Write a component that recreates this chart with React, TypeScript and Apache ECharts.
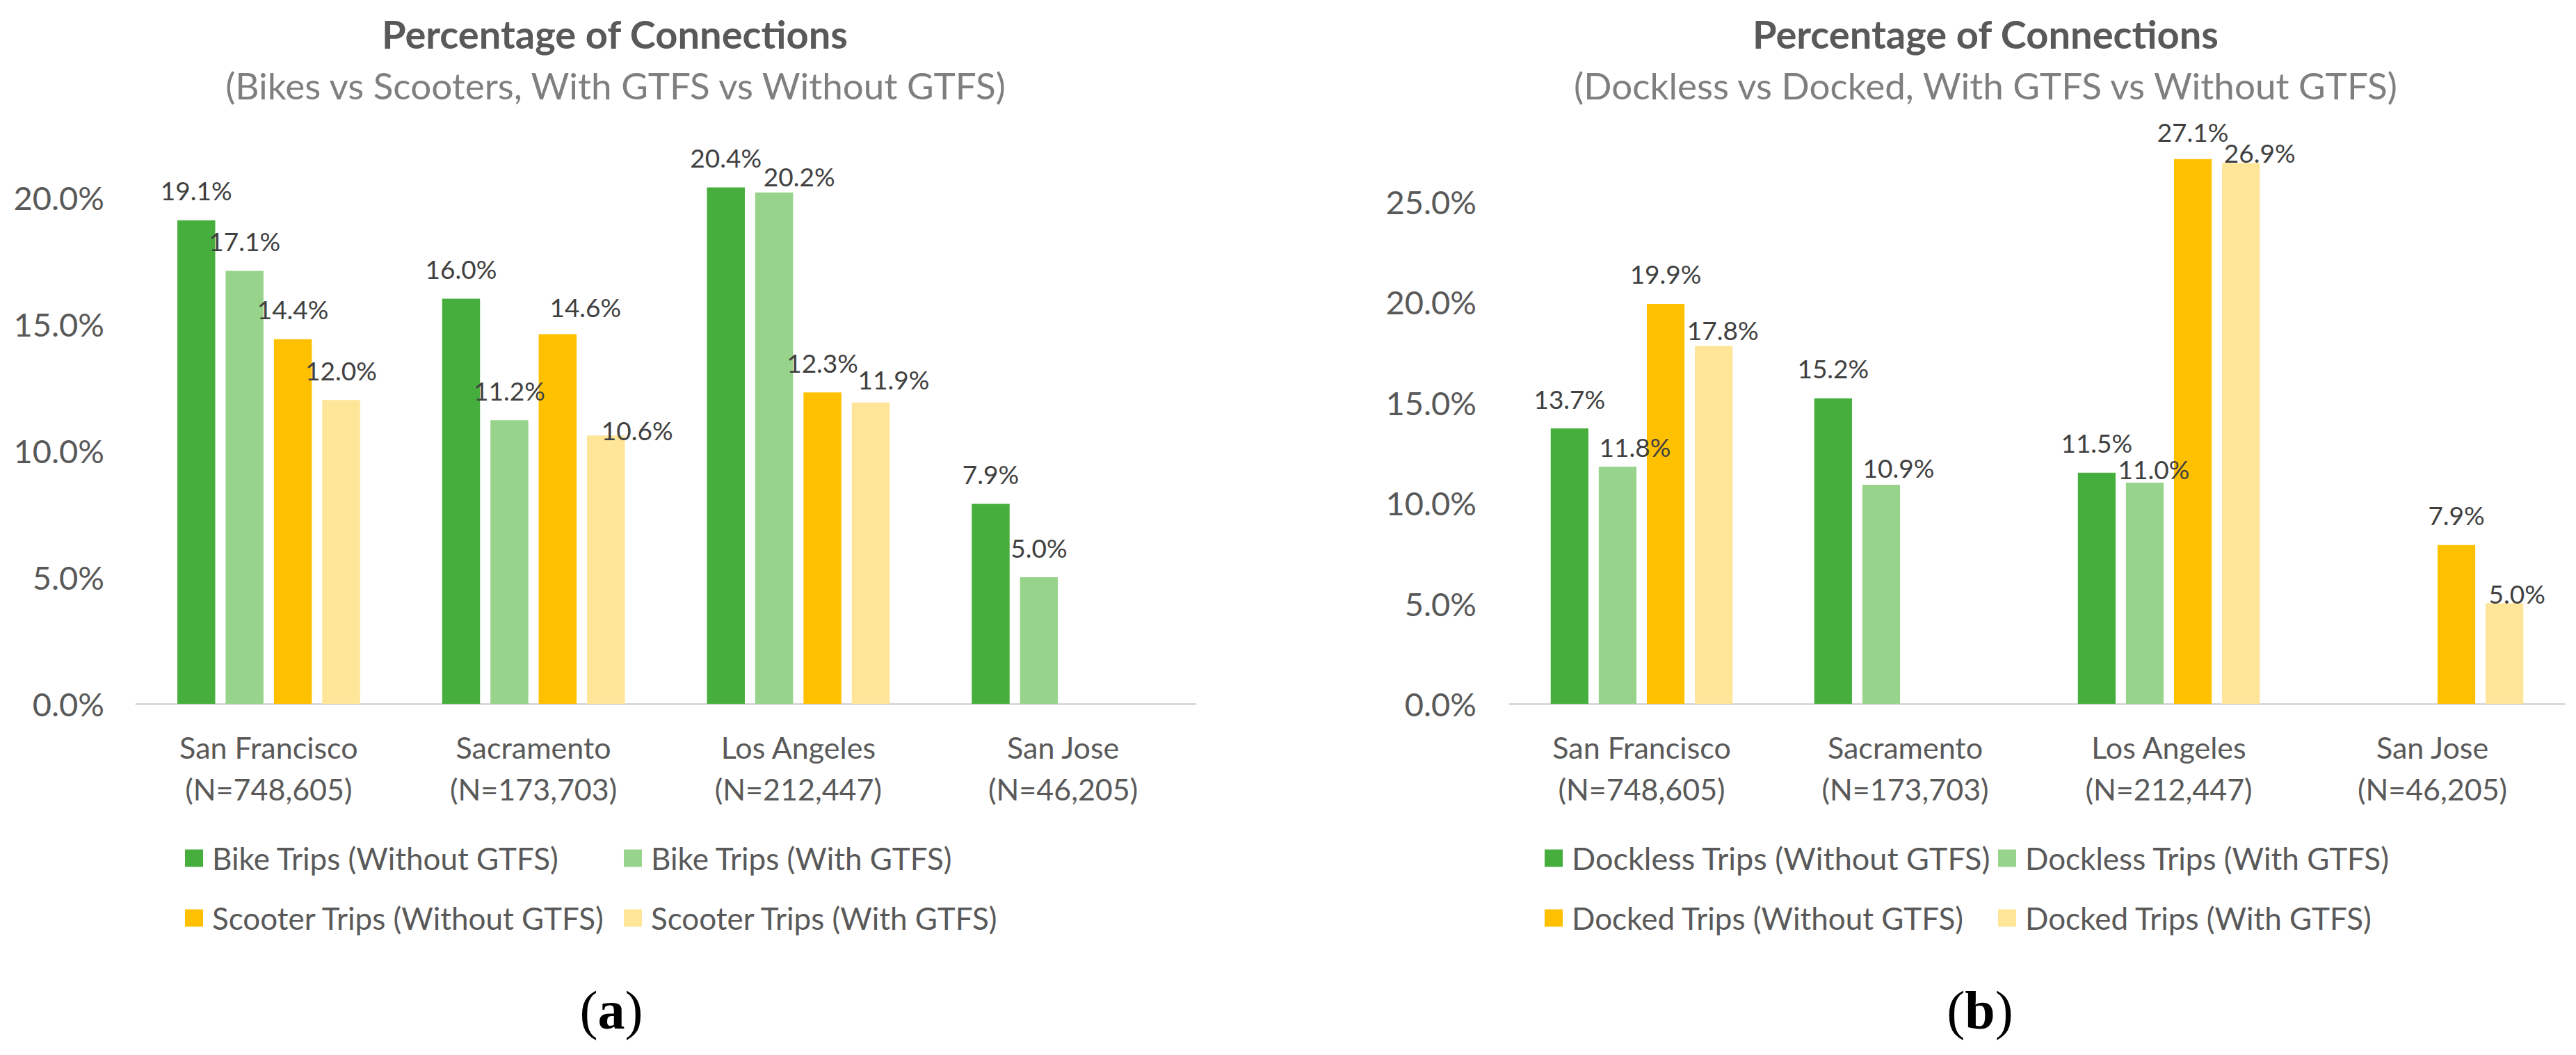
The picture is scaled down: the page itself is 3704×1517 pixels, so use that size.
import React, { useEffect, useRef } from "react";
import * as echarts from "echarts";

// ---------- data ----------
const CITY_NAMES = ["San Francisco", "Sacramento", "Los Angeles", "San Jose"];
const CITY_N = ["(N=748,605)", "(N=173,703)", "(N=212,447)", "(N=46,205)"];

const A_SERIES_NAMES = [
  "Bike Trips (Without GTFS)",
  "Bike Trips (With GTFS)",
  "Scooter Trips (Without GTFS)",
  "Scooter Trips (With GTFS)",
];
const A_BIKE_WITHOUT = [19.1, 16.0, 20.4, 7.9];
const A_BIKE_WITH = [17.1, 11.2, 20.2, 5.0];
const A_SCOOTER_WITHOUT = [14.4, 14.6, 12.3, null];
const A_SCOOTER_WITH = [12.0, 10.6, 11.9, null];

const B_SERIES_NAMES = [
  "Dockless Trips (Without GTFS)",
  "Dockless Trips (With GTFS)",
  "Docked Trips (Without GTFS)",
  "Docked Trips (With GTFS)",
];
const B_DOCKLESS_WITHOUT = [13.7, 15.2, 11.5, null];
const B_DOCKLESS_WITH = [11.8, 10.9, 11.0, null];
const B_DOCKED_WITHOUT = [19.9, null, 27.1, 7.9];
const B_DOCKED_WITH = [17.8, null, 26.9, 5.0];

const TITLE = "Percentage of Connections";
const A_SUBTITLE = "(Bikes vs Scooters, With GTFS vs Without GTFS)";
const B_SUBTITLE = "(Dockless vs Docked, With GTFS vs Without GTFS)";

const A_AXIS_MAX = 25;
const B_AXIS_MAX = 30;
const AXIS_STEP = 5;

// ---------- styles ----------
const COLORS = ["#45AE3C", "#98D38B", "#FFC000", "#FFE597"];
const FONT = 'Lato, "Open Sans", sans-serif';
const SERIF = '"Liberation Serif", "DejaVu Serif", serif';

// per-point nudges of the value labels (as placed in the original chart), [dx, dy] in px
const A_LABEL_SHIFT = [
  [[0, 0], [0, 0], [0, 0], [0, 0]],
  [[0, 0], [0, 0], [36, 20], [0, 0]],
  [[0, 0], [40, 4], [0, 0], [0, 0]],
  [[0, 0], [45, 35], [33, 10], [0, 0]],
];
const B_LABEL_SHIFT = [
  [[0, 0], [0, 0], [0, 0], [0, 0]],
  [[25, 15], [25, 19], [13, 23], [0, 0]],
  [[0, 0], [0, 0], [0, 4], [0, 0]],
  [[13, 20], [0, 0], [27, 28], [18, 29]],
];

export default function App() {
  const ref = useRef<HTMLDivElement>(null);

  useEffect(() => {
    if (!ref.current) return;
    const chart = echarts.init(ref.current, undefined, { renderer: "svg" });

    const categories = CITY_NAMES.map((c, i) => `${c}\n${CITY_N[i]}`);

    const mkSeries = (
      name: string,
      data: (number | null)[],
      shifts: number[][],
      color: string,
      idx: number
    ) => ({
      type: "bar",
      name,
      data: data.map((v, j) => (v == null ? null : { value: v, label: { offset: shifts[j] } })),
      xAxisIndex: idx,
      yAxisIndex: idx,
      barCategoryGap: "31%",
      barGap: "27.5%",
      itemStyle: { color },
      label: {
        show: true,
        position: "top",
        distance: 23,
        formatter: (p: any) => (p.value == null ? "" : `${Number(p.value).toFixed(1)}%`),
        color: "#404040",
        fontSize: 37,
        lineHeight: 40,
        fontFamily: FONT,
      },
    });

    const aData = [A_BIKE_WITHOUT, A_BIKE_WITH, A_SCOOTER_WITHOUT, A_SCOOTER_WITH];
    const bData = [B_DOCKLESS_WITHOUT, B_DOCKLESS_WITH, B_DOCKED_WITHOUT, B_DOCKED_WITH];

    const series = [
      ...A_SERIES_NAMES.map((n, i) => mkSeries(n, aData[i], A_LABEL_SHIFT[i], COLORS[i], 0)),
      ...B_SERIES_NAMES.map((n, i) => mkSeries(n, bData[i], B_LABEL_SHIFT[i], COLORS[i], 1)),
    ];

    const xAxisBase = {
      type: "category",
      data: categories,
      axisLine: { show: true, lineStyle: { color: "#D9D9D9", width: 3 } },
      axisTick: { show: false },
      axisLabel: {
        color: "#595959",
        fontSize: 43,
        lineHeight: 60,
        margin: 32,
        fontFamily: FONT,
        interval: 0,
      },
    };
    const yAxisBase = (max: number, margin: number) => ({
      type: "value",
      min: 0,
      max,
      interval: AXIS_STEP,
      axisLine: { show: false },
      axisTick: { show: false },
      splitLine: { show: false },
      axisLabel: {
        color: "#595959",
        fontSize: 47,
        margin,
        fontFamily: FONT,
        showMaxLabel: false,
        formatter: (v: number) => `${v.toFixed(1)}%`,
      },
    });

    const legendItem = (name: string, left: number, cy: number, size = 44) => ({
      data: [name],
      left,
      top: cy - 25,
      padding: 0,
      itemWidth: 26,
      itemHeight: 25,
      icon: "rect",
      selectedMode: false,
      textStyle: {
        color: "#595959",
        fontSize: size,
        lineHeight: 50,
        fontFamily: FONT,
        padding: [0, 0, 0, 8],
      },
    });

    const row1 = 1234;
    const row2 = 1320;

    const textEl = (text: string, x: number, y: number, size: number, color: string, weight = "normal") => ({
      type: "text",
      x,
      y,
      style: {
        text,
        fill: color,
        fontSize: size,
        fontWeight: weight,
        fontFamily: FONT,
        textAlign: "center",
        textVerticalAlign: "middle",
      },
    });

    const panelLabel = (letter: string, x: number, y: number) => ({
      type: "text",
      x,
      y,
      style: {
        text: `{p|(}{b|${letter}}{p|)}`,
        textAlign: "center",
        textVerticalAlign: "middle",
        rich: {
          p: { fontFamily: SERIF, fontSize: 78, fill: "#000", fontWeight: "normal" },
          b: { fontFamily: SERIF, fontSize: 78, fill: "#000", fontWeight: "bold" },
        },
      },
    });

    chart.setOption({
      animation: false,
      backgroundColor: "#FFFFFF",
      grid: [
        { left: 196, top: 1012 - A_AXIS_MAX * 36.4, width: 1523, height: A_AXIS_MAX * 36.4 },
        { left: 2171, top: 1012 - B_AXIS_MAX * 28.9, width: 1516, height: B_AXIS_MAX * 28.9 },
      ],
      xAxis: [
        { ...xAxisBase, gridIndex: 0 },
        { ...xAxisBase, gridIndex: 1 },
      ],
      yAxis: [
        { ...yAxisBase(A_AXIS_MAX, 46), gridIndex: 0 },
        { ...yAxisBase(B_AXIS_MAX, 48), gridIndex: 1 },
      ],
      legend: [
        legendItem(A_SERIES_NAMES[0], 266, row1),
        legendItem(A_SERIES_NAMES[1], 897, row1),
        legendItem(A_SERIES_NAMES[2], 266, row2),
        legendItem(A_SERIES_NAMES[3], 897, row2),
        legendItem(B_SERIES_NAMES[0], 2221, row1, 45),
        legendItem(B_SERIES_NAMES[1], 2873, row1),
        legendItem(B_SERIES_NAMES[2], 2221, row2),
        legendItem(B_SERIES_NAMES[3], 2873, row2),
      ],
      graphic: [
        textEl(TITLE, 884, 48, 56, "#595959", "bold"),
        textEl(A_SUBTITLE, 885, 122, 53, "#7F7F7F"),
        textEl(TITLE, 2855, 48, 56, "#595959", "bold"),
        textEl(B_SUBTITLE, 2855, 122, 53, "#7F7F7F"),
        panelLabel("a", 879, 1452),
        panelLabel("b", 2847, 1452),
      ],
      series,
    });

    return () => chart.dispose();
  }, []);

  return (
    <div
      ref={ref}
      style={{ position: "absolute", left: 0, top: 0, width: 3704, height: 1517, background: "#fff" }}
    />
  );
}
